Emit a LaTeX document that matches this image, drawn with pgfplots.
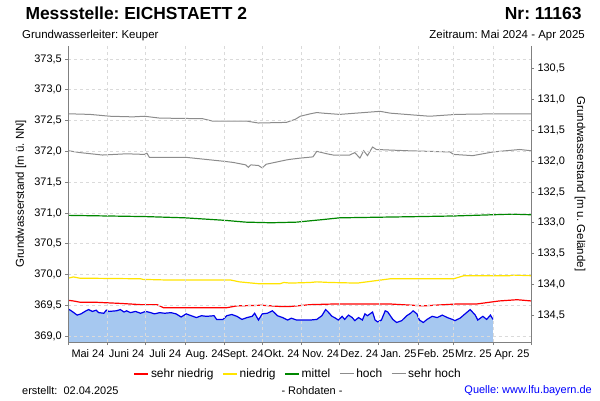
\documentclass[border=0pt]{standalone}
\usepackage{pgfplots}
\pgfplotsset{compat=1.18}
\usepackage{pgfplotstable}
\usepackage{fontspec}
\setmainfont{Liberation Sans}
\frenchspacing
\definecolor{fillblue}{RGB}{166,200,240}
\definecolor{lineblue}{RGB}{0,0,235}
\definecolor{lred}{RGB}{255,0,0}
\definecolor{lyellow}{RGB}{255,228,0}
\definecolor{lgreen}{RGB}{0,135,0}
\definecolor{lgray}{RGB}{140,140,140}
\definecolor{axisgray}{RGB}{128,128,128}
\definecolor{gridgray}{RGB}{218,218,218}
\definecolor{qblue}{RGB}{0,0,255}

\pgfplotstableread{
d v
0 369.44
3 369.40
7 369.34
10 369.36
14 369.41
16 369.43
19 369.40
22 369.42
24 369.38
28 369.37
30 369.42
32 369.40
38 369.41
41 369.43
44 369.39
46 369.41
49 369.38
53 369.40
57 369.37
61 369.40
65 369.38
68 369.36
72 369.38
76 369.37
81 369.38
85 369.36
89 369.31
93 369.36
97 369.33
101 369.30
105 369.33
109 369.32
115 369.33
117 369.27
122 369.27
125 369.33
129 369.35
133 369.32
137 369.27
141 369.30
145 369.32
147 369.37
150 369.26
153 369.36
157 369.37
161 369.41
165 369.33
169 369.30
173 369.26
176 369.29
180 369.26
184 369.26
191 369.26
196 369.27
200 369.33
203 369.43
205 369.39
208 369.32
210 369.30
213 369.26
216 369.32
218 369.27
221 369.34
224 369.30
226 369.25
229 369.30
232 369.26
234 369.36
236 369.33
240 369.39
242 369.26
244 369.23
247 369.26
250 369.41
252 369.39
256 369.27
259 369.22
263 369.25
267 369.33
270 369.37
272 369.41
275 369.36
277 369.26
280 369.22
283 369.27
287 369.32
291 369.30
295 369.34
299 369.30
303 369.27
305 369.25
309 369.29
313 369.36
317 369.43
321 369.34
323 369.26
327 369.32
330 369.27
333 369.34
335 369.27
}\bluedata

\pgfplotstableread{
d v
0 368.903
0 369.44
3 369.40
7 369.34
10 369.36
14 369.41
16 369.43
19 369.40
22 369.42
24 369.38
28 369.37
30 369.42
32 369.40
38 369.41
41 369.43
44 369.39
46 369.41
49 369.38
53 369.40
57 369.37
61 369.40
65 369.38
68 369.36
72 369.38
76 369.37
81 369.38
85 369.36
89 369.31
93 369.36
97 369.33
101 369.30
105 369.33
109 369.32
115 369.33
117 369.27
122 369.27
125 369.33
129 369.35
133 369.32
137 369.27
141 369.30
145 369.32
147 369.37
150 369.26
153 369.36
157 369.37
161 369.41
165 369.33
169 369.30
173 369.26
176 369.29
180 369.26
184 369.26
191 369.26
196 369.27
200 369.33
203 369.43
205 369.39
208 369.32
210 369.30
213 369.26
216 369.32
218 369.27
221 369.34
224 369.30
226 369.25
229 369.30
232 369.26
234 369.36
236 369.33
240 369.39
242 369.26
244 369.23
247 369.26
250 369.41
252 369.39
256 369.27
259 369.22
263 369.25
267 369.33
270 369.37
272 369.41
275 369.36
277 369.26
280 369.22
283 369.27
287 369.32
291 369.30
295 369.34
299 369.30
303 369.27
305 369.25
309 369.29
313 369.36
317 369.43
321 369.34
323 369.26
327 369.32
330 369.27
333 369.34
335 369.27
335 368.903
}\filldata

\pgfplotstableread{
d v
0 369.58
4 369.57
9 369.55
20 369.55
41 369.53
57 369.51
70 369.51
75 369.46
125 369.46
133 369.49
153 369.50
167 369.48
175 369.48
191 369.51
209 369.52
254 369.52
280 369.49
306 369.52
322 369.52
340 369.57
354 369.59
365 369.57
}\reddata

\pgfplotstableread{
d v
0 369.94
4 369.96
9 369.94
57 369.93
59 369.92
78 369.91
128 369.91
135 369.88
150 369.85
167 369.85
170 369.87
175 369.86
191 369.87
196 369.88
206 369.87
228 369.86
254 369.93
304 369.93
312 369.98
348 369.98
351 369.99
365 369.98
}\yellowdata

\pgfplotstableread{
d v
0 370.96
31 370.95
61 370.94
92 370.92
123 370.88
140 370.85
160 370.84
180 370.85
200 370.89
214 370.92
245 370.93
276 370.94
304 370.95
335 370.97
350 370.98
365 370.97
}\greendata

\pgfplotstableread{
d v
0 372.01
9 371.98
27 371.94
46 371.96
60 371.95
62 371.97
64 371.90
94 371.90
122 371.84
130 371.82
140 371.78
142 371.74
144 371.78
150 371.77
153 371.73
156 371.79
172 371.86
175 371.87
183 371.89
193 371.91
196 372.00
204 371.96
209 371.94
222 371.94
226 371.98
230 371.89
233 372.01
236 371.93
240 372.07
243 372.03
267 372.01
301 371.99
304 371.95
319 371.93
335 371.99
356 372.03
365 372.01
}\hochdata

\pgfplotstableread{
d v
0 372.61
17 372.60
33 372.57
51 372.56
60 372.57
72 372.54
106 372.53
114 372.49
141 372.49
150 372.46
172 372.47
179 372.52
183 372.57
191 372.61
196 372.63
201 372.62
214 372.60
246 372.65
254 372.62
285 372.57
306 372.60
338 372.61
365 372.61
}\sehrhochdata

\begin{document}
\begin{tikzpicture}[x=1bp,y=1bp]
\begin{axis}[
  at={(68.3bp,58bp)}, anchor=south west,
  scale only axis, width=462.7bp, height=296bp,
  axis on top,
  xmin=0, xmax=365, ymin=368.903, ymax=373.711,
  axis x line*=bottom, axis y line*=left,
  axis line style={-, draw=axisgray, line width=1bp},
  xtick={0,31,61,92,123,153,184,214,245,276,304,335,365},
  xticklabels={Mai 24,Juni 24,Juli 24,Aug. 24,Sept. 24,Okt. 24,Nov. 24,Dez. 24,Jan. 25,Feb. 25,Mrz. 25,Apr. 25},
  x tick label as interval,
  ytick={369,369.5,370,370.5,371,371.5,372,372.5,373,373.5},
  tick align=outside, major tick length=3bp,
  tick style={draw=axisgray, line width=0.8bp},
  xmajorgrids, ymajorgrids,
  major grid style={draw=gridgray, dashed, line width=0.6bp},
  tick label style={font=\fontsize{11}{13}\selectfont},
  xticklabel style={yshift=-1bp},
  yticklabel style={/pgf/number format/.cd, use comma, fixed, fixed zerofill, precision=1, 1000 sep={}, assume math mode=true},
  legend columns=5,
  legend style={at={(0.497,-0.108)}, anchor=center, draw=none, fill=none,
    font=\fontsize{12}{13}\selectfont, inner sep=0pt,
    /tikz/every even column/.append style={column sep=7bp}},
  legend image code/.code={\draw[#1] (0bp,0bp) -- (14bp,0bp);},
]
\addplot[fill=fillblue, draw=none, forget plot] table[x=d,y=v] {\filldata};
\addplot[lred, line width=1.2bp] table[x=d,y=v] {\reddata};
\addlegendentry{sehr niedrig}
\addplot[lyellow, line width=1.2bp] table[x=d,y=v] {\yellowdata};
\addlegendentry{niedrig}
\addplot[lgreen, line width=1.2bp] table[x=d,y=v] {\greendata};
\addlegendentry{mittel}
\addplot[lgray, line width=1bp] table[x=d,y=v] {\hochdata};
\addlegendentry{hoch}
\addplot[lgray, line width=1bp] table[x=d,y=v] {\sehrhochdata};
\addlegendentry{sehr hoch}
\addplot[lineblue, line width=1.2bp, forget plot] table[x=d,y=v] {\bluedata};
\end{axis}
\begin{axis}[
  at={(68.3bp,58bp)}, anchor=south west,
  scale only axis, width=462.7bp, height=296bp,
  xmin=0, xmax=365, ymin=130.129, ymax=134.937, y dir=reverse,
  hide x axis, axis y line*=right,
  axis line style={-, draw=axisgray, line width=1bp},
  ytick={130.5,131,131.5,132,132.5,133,133.5,134,134.5},
  tick align=outside, major tick length=3bp,
  tick style={draw=axisgray, line width=0.8bp},
  tick label style={font=\fontsize{11}{13}\selectfont},
  yticklabel style={/pgf/number format/.cd, use comma, fixed, fixed zerofill, precision=1, 1000 sep={}, assume math mode=true},
]
\addplot[draw=none] coordinates {(0,131) (365,134)};
\end{axis}
\node[anchor=base west, font=\fontsize{17.5}{20}\selectfont\bfseries] at (22,381) {Messstelle: EICHSTAETT 2};
\node[anchor=base east, font=\fontsize{17.5}{20}\selectfont\bfseries] at (585,381) {Nr: 11163};
\node[anchor=base west, font=\fontsize{11.5}{13}\selectfont, inner sep=0pt] at (22,362) {Grundwasserleiter: Keuper};
\node[anchor=base east, font=\fontsize{11.5}{13}\selectfont, inner sep=0pt] at (585,362) {Zeitraum: Mai 2024 - Apr 2025};
\node[rotate=90, font=\fontsize{11.5}{13}\selectfont] at (21,206) {Grundwasserstand [m ü. NN]};
\node[rotate=-90, font=\fontsize{11.5}{13}\selectfont] at (580,216) {Grundwasserstand [m u. Gelände]};
\node[anchor=west, font=\fontsize{11}{13}\selectfont, inner sep=0pt] at (22,9) {erstellt:\ \ 02.04.2025};
\node[anchor=center, font=\fontsize{11}{13}\selectfont, inner sep=0pt] at (312,9) {- Rohdaten -};
\node[anchor=east, font=\fontsize{11}{13}\selectfont, inner sep=0pt, text=qblue] at (592,9) {Quelle: www.lfu.bayern.de};
\pgfresetboundingbox
\path[use as bounding box] (0,0) rectangle (600,400);
\end{tikzpicture}
\end{document}
